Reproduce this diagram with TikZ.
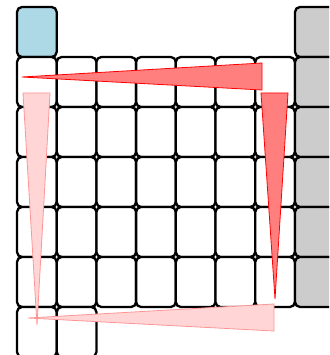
\documentclass[tikz,border=0pt]{standalone}
\definecolor{CellBlue}{RGB}{173, 216, 230}
\definecolor{CellGray}{RGB}{204, 204, 204}
\definecolor{WedgeRed}{RGB}{255, 127, 127}
\definecolor{WedgePink}{RGB}{255, 213, 213}
\definecolor{EdgePink}{RGB}{255, 150, 150}
\usetikzlibrary{calc}

\begin{document}
\begin{tikzpicture}[
    x=1pt, y=-1pt,
    cell/.style={draw=black, line width=2.3pt, rounded corners=5pt, fill=white},
    sblock/.style={cell, fill=CellBlue},
    pblock/.style={cell, fill=CellGray},
    wedge/.style={draw=red, fill=WedgeRed, line width=0.8pt, line join=miter},
    wedgelight/.style={draw=EdgePink, fill=WedgePink, line width=0.8pt, line join=miter}
]
\useasboundingbox (0,0) rectangle (329,355);
\clip (0,0) rectangle (329,355);
% top row
\draw[sblock] (17,7) rectangle ++(39.7,50);
\draw[pblock] (295,7) rectangle ++(39.7,50);
% main block
\foreach \r in {1,...,5} {
  \foreach \c in {0,...,6}
    \draw[cell] ({17+39.7*\c},{7+50*\r}) rectangle ++(39.7,50);
  \draw[pblock] (295,{7+50*\r}) rectangle ++(39.7,50);
}
% last row
\foreach \c in {0,1}
  \draw[cell] ({17+39.7*\c},307) rectangle ++(39.7,50);
% filling order
\draw[wedge] (22,77) -- (262,63) -- (262,90) -- cycle;
\draw[wedge] (261,93) -- (288,93) -- (275,299) -- cycle;
\draw[wedgelight] (274,304) -- (274,331) -- (28,318) -- cycle;
\draw[wedgelight] (23,93) -- (50,93) -- (37,325) -- cycle;
\end{tikzpicture}
\end{document}
